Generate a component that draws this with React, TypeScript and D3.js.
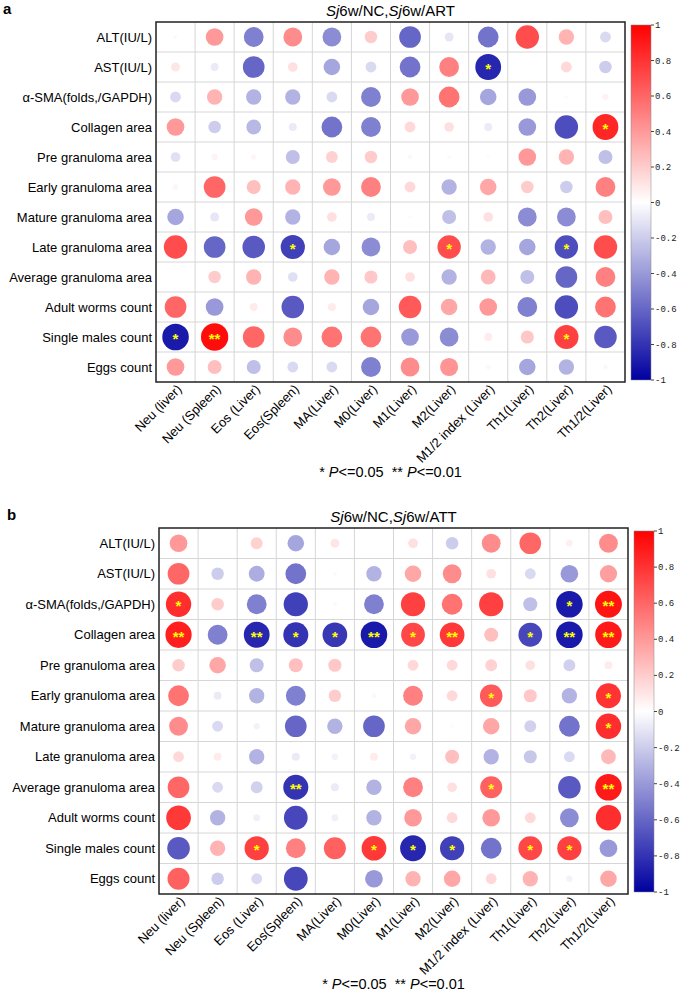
import React from 'react';
import * as d3 from 'd3';

const rowLabels = [
    'ALT(IU/L)', 'AST(IU/L)', 'α-SMA(folds,/GAPDH)', 'Collagen area', 'Pre granuloma area',
    'Early granuloma area', 'Mature granuloma area', 'Late granuloma area',
    'Average granuloma area', 'Adult worms count', 'Single males count', 'Eggs count'
];
const colLabels = [
    'Neu (liver)', 'Neu (Spleen)', 'Eos (Liver)', 'Eos(Spleen)', 'MA(Liver)', 'M0(Liver)',
    'M1(Liver)', 'M2(Liver)', 'M1/2 index (Liver)', 'Th1(Liver)', 'Th2(Liver)', 'Th1/2(Liver)'
];
const colorTicks = [1, 0.8, 0.6, 0.4, 0.2, 0, -0.2, -0.4, -0.6, -0.8, -1];

// panel a: Sj6w/NC, Sj6w/ART
const corrA = [
    [-0.02, 0.4, -0.5, 0.45, -0.45, 0.2, -0.6, -0.1, -0.55, 0.7, 0.3, -0.15],
    [0.1, -0.08, -0.6, 0.12, -0.35, -0.15, -0.55, 0.5, -0.85, 0, 0.15, -0.2],
    [-0.15, 0.3, -0.3, -0.3, -0.15, -0.5, 0.4, 0.55, -0.35, -0.4, 0.02, 0.05],
    [0.4, -0.2, -0.28, -0.08, -0.55, -0.5, 0.15, 0.12, -0.08, -0.4, -0.7, 0.85],
    [-0.12, 0.05, 0.04, -0.25, 0.18, 0.2, 0.03, 0.02, 0.02, 0.4, 0.3, -0.25],
    [0.04, 0.6, 0.25, 0.3, 0.4, 0.5, 0.15, -0.3, 0.35, 0.2, -0.2, 0.5],
    [-0.35, -0.1, 0.4, -0.3, 0.12, -0.08, 0.02, -0.25, 0.12, -0.45, -0.45, 0.25],
    [0.7, -0.6, -0.65, -0.75, -0.35, -0.45, 0.25, 0.7, -0.3, -0.35, -0.7, 0.7],
    [0.01, 0.2, 0.3, -0.12, 0.3, 0.22, 0.12, -0.3, 0.28, -0.25, -0.6, 0.5],
    [0.6, -0.4, 0.08, -0.65, 0.08, -0.35, 0.65, 0.35, 0.4, -0.5, -0.7, 0.55],
    [-0.9, 0.95, 0.6, 0.45, 0.55, 0.55, -0.4, -0.45, 0.08, 0.22, 0.75, -0.65],
    [0.4, 0.25, -0.25, -0.15, -0.15, -0.5, 0.45, 0.42, 0.03, -0.35, -0.3, 0.03]
];
const sigA = [
    '000000000000',
    '000000001000',
    '000000000000',
    '000000000001',
    '000000000000',
    '000000000000',
    '000000000000',
    '000100010010',
    '000000000000',
    '000000000000',
    '120000000010',
    '000000000000'
];

// panel b: Sj6w/NC, Sj6w/ATT
const corrB = [
    [0.4, 0, 0.18, -0.35, 0.1, 0, 0.12, -0.2, 0.45, 0.6, 0.06, 0.45],
    [0.6, -0.2, -0.32, -0.55, -0.02, -0.3, 0.35, 0.45, 0.12, -0.15, -0.4, 0.38],
    [0.82, 0.2, -0.5, -0.75, -0.02, -0.5, 0.75, 0.55, 0.75, -0.25, -0.9, 0.92],
    [0.88, -0.5, -0.85, -0.8, -0.78, -0.9, 0.72, 0.78, 0.25, -0.72, -0.9, 0.9],
    [0.2, 0.35, -0.25, 0.25, 0.22, 0, 0.15, 0.15, 0.18, 0.12, -0.18, 0.08],
    [0.55, -0.08, -0.3, -0.5, 0.2, 0.03, 0.5, 0.15, 0.65, 0.22, -0.3, 0.8],
    [0.45, -0.15, -0.05, -0.6, -0.3, -0.6, 0.35, 0.02, 0.35, -0.18, -0.55, 0.82],
    [0.15, 0.08, -0.3, -0.08, -0.05, 0.08, -0.05, 0.25, -0.3, -0.22, -0.15, 0.28],
    [0.6, -0.15, -0.18, -0.8, -0.08, -0.3, 0.5, 0.12, 0.62, 0.01, -0.65, 0.9],
    [0.78, -0.3, -0.06, -0.72, -0.06, -0.3, 0.4, 0.15, 0.4, 0.15, -0.45, 0.82],
    [-0.65, 0.3, 0.75, 0.5, 0.62, 0.78, -0.85, -0.75, -0.55, 0.72, 0.75, -0.4],
    [0.62, -0.2, -0.15, -0.72, 0, -0.4, 0.3, 0.35, 0.15, 0.3, -0.05, 0.35]
];
const sigB = [
    '000000000000',
    '000000000000',
    '100000000012',
    '202112120122',
    '000000000000',
    '000000001001',
    '000000000001',
    '000000000000',
    '000200001002',
    '000000000000',
    '001001110110',
    '000000000000'
];

const font = '"Liberation Sans", Arial, sans-serif';
const color = d3.scaleLinear<string>().domain([-1, 0, 1]).range(['#0000a0', '#ffffff', '#ff0000']);

interface PanelProps {
    id: string;
    letter: string;
    title: string;
    values: number[][];
    sig: string[];
    top: number;
    left: number;
    right: number;
    bottom: number;
}

const Panel: React.FC<PanelProps> = ({ id, letter, title, values, sig, top, left, right, bottom }) => {
    const x = d3.scaleBand<number>().domain(d3.range(colLabels.length)).range([left, right]);
    const y = d3.scaleBand<number>().domain(d3.range(rowLabels.length)).range([top, bottom]);
    const maxR = 14;
    const r = d3.scaleSqrt().domain([0, 1]).range([0, maxR]);
    const cbX = right + 6;
    const cbW = 20;
    const cb = d3.scaleLinear().domain([1, -1]).range([top + 3, bottom - 2]);
    const cx = (left + right) / 2;
    return (
        <g>
            <defs>
                <linearGradient id={id} x1="0" y1="0" x2="0" y2="1">
                    <stop offset="0%" stopColor={color(1)} />
                    <stop offset="50%" stopColor={color(0)} />
                    <stop offset="100%" stopColor={color(-1)} />
                </linearGradient>
            </defs>
            <text x={letter === 'a' ? 3 : 7} y={top - 8} fontFamily={font} fontWeight="bold" fontSize={15}>{letter}</text>
            <text x={cx} y={top - 6} textAnchor="middle" fontFamily={font} fontSize={15}>
                <tspan fontStyle="italic">Sj</tspan>6w/NC,<tspan fontStyle="italic">Sj</tspan>{'6w/' + title}
            </text>
            {/* grid */}
            <g stroke="#d6d6d6" strokeWidth={1}>
                {d3.range(1, colLabels.length).map(i => (
                    <line key={'v' + i} x1={x(i)} x2={x(i)} y1={top} y2={bottom} />
                ))}
                {d3.range(1, rowLabels.length).map(i => (
                    <line key={'h' + i} x1={left} x2={right} y1={y(i)} y2={y(i)} />
                ))}
            </g>
            {values.map((row, i) => row.map((v, j) => {
                const px = (x(j) as number) + x.bandwidth() / 2;
                const py = (y(i) as number) + y.bandwidth() / 2;
                const n = +sig[i][j];
                return (
                    <g key={i + '-' + j}>
                        {Math.abs(v) > 0.005 && <circle cx={px} cy={py} r={r(Math.abs(v))} fill={color(v)} />}
                        {n > 0 && (
                            <text x={px} y={py + 7} textAnchor="middle" fill="#ffff00" fontFamily={font} fontSize={15} fontWeight="bold">
                                {n === 2 ? '**' : '*'}
                            </text>
                        )}
                    </g>
                );
            }))}
            <rect x={left} y={top} width={right - left} height={bottom - top} fill="none" stroke="#222" strokeWidth={1.5} />
            {rowLabels.map((d, i) => (
                <text key={d} x={left - 4} y={(y(i) as number) + y.bandwidth() / 2 + 4.5} textAnchor="end" fontFamily={font} fontSize={13}>{d}</text>
            ))}
            {colLabels.map((d, j) => (
                <text key={d} transform={`translate(${(x(j) as number) + x.bandwidth() / 2 + 7},${bottom + 8}) rotate(-45)`}
                    textAnchor="end" fontFamily={font} fontSize={13}>{d}</text>
            ))}
            {/* colour bar */}
            <rect x={cbX} y={cb(1)} width={cbW} height={cb(-1) - cb(1)} fill={`url(#${id})`} stroke="#888" strokeWidth={0.5} />
            {colorTicks.map(t => (
                <g key={t}>
                    <line x1={cbX + cbW} x2={cbX + cbW + 3} y1={cb(t)} y2={cb(t)} stroke="#444" />
                    <text x={cbX + cbW + 4} y={cb(t) + 3} fontFamily='"Liberation Mono", monospace' fontSize={9} fill="#222">{t}</text>
                </g>
            ))}
            <text x={cx} y={bottom + 95} textAnchor="middle" fontFamily={font} fontSize={14.5} style={{ whiteSpace: 'pre' }}>
                {'* '}<tspan fontStyle="italic">P</tspan>{'<=0.05  ** '}<tspan fontStyle="italic">P</tspan>{'<=0.01'}
            </text>
        </g>
    );
};

export default function App() {
    return (
        <svg width={685} height={994} style={{ position: 'absolute', left: 0, top: 0, background: '#fff' }}>
            <Panel id="cbA" letter="a" title="ART" values={corrA} sig={sigA} top={22} left={156} right={625} bottom={382} />
            <Panel id="cbB" letter="b" title="ATT" values={corrB} sig={sigB} top={528} left={159} right={628} bottom={894} />
        </svg>
    );
}
